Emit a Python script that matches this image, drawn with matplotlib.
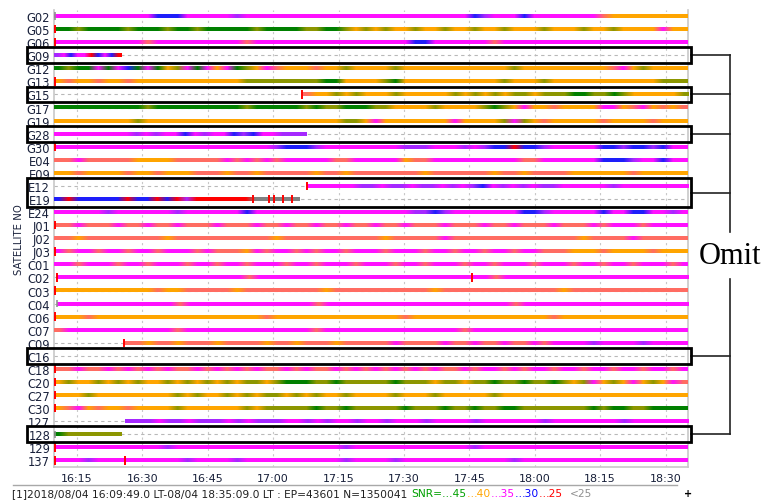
import numpy as np
import matplotlib
matplotlib.use("Agg")
import matplotlib.pyplot as plt
import matplotlib.transforms as mtransforms
from matplotlib.patches import Rectangle
from matplotlib.lines import Line2D

# time axis in minutes after 16:00 local time
t_first = 9.82    # 16:09:49
t_last = 155.15   # 18:35:09

sat_names = ["G02", "G05", "G06", "G09", "G12", "G13", "G15", "G17", "G19", "G28",
             "G30", "E04", "E09", "E12", "E19", "E24", "J01", "J02", "J03", "C01",
             "C02", "C03", "C04", "C06", "C07", "C09", "C16", "C18", "C20", "C27",
             "C30", "127", "128", "129", "137"]

# observation arc of each satellite (None = not tracked)
arc_start = [t_first, t_first, t_first, t_first, t_first, t_first, 66.6, t_first, t_first, t_first,
             t_first, t_first, t_first, 67.7, t_first, t_first, t_first, t_first, t_first, t_first,
             10.4, t_first, 10.4, t_first, t_first, 25.8, None, t_first, t_first, t_first,
             t_first, 26.0, t_first, t_first, t_first]
arc_end = [t_last, t_last, t_last, 25.3, t_last, t_last, t_last, t_last, t_last, 67.7,
           t_last, t_last, t_last, t_last, 66.1, t_last, t_last, t_last, t_last, t_last,
           t_last, t_last, t_last, t_last, t_last, t_last, None, t_last, t_last, t_last,
           t_last, t_last, 25.3, t_last, t_last]

# SNR class along each arc: g >=45, o ~42, y 40, s ~37, m 35, p ~32, b 30, r 25, k <25
arc_snr = [
    "mmmmmmmm" "mmbbbmmm" "mmpmmmmm" "mmmmmmmm" "mmmmmmmm" "mmbpmmmb" "mmmmmmms" "yyyyyyyy",
    "ggoggggo" "gggoggog" "ggggoggg" "googgoyo" "yoyyoyyo" "yyoyyoyy" "yoyyyoyy" "oyyyymyy",
    "mmmmmmmm" "msmmmmmm" "mmmsmmmm" "mmmmmmmm" "mmmmbbmm" "mmmmsmmm" "mmmmmmmm" "mmmmmmmm",
    "pmbmmrbmbr",
    "goggmgmb" "gmgyomgm" "ymgoymsy" "yysyyoyy" "yyoyyyyy" "yyyyyyoy" "yyyyyyyy" "smyoyyyy",
    "ysyysyys" "yyyyyyyy" "yyyooooo" "oooggyyy" "yogyyyyy" "yyyyyoyy" "yoyyyyyy" "yyyyyooo",
    "syyoyoyyyo" "yyyyyoyoyo" "yooyoooggo" "ogoyyyyyo",
    "gggggggg" "gogggggg" "gggogggg" "gogooggg" "ooyyyyoy" "yyyogoym" "yysyyyym" "mysmysys",
    "yyyyyyyy" "oyyyyyyy" "yyyyyyyy" "yyyyyooy" "myyyyyyy" "myyyyomo" "ysyyyyys" "yyyysyyy",
    "mmmmmmmmpmpmmbmpmmbpbmmppp",
    "mmmmmmmm" "mmmmmmmm" "mmmmmmpb" "bbpmmmmm" "mmmpppmm" "mpmpbbrb" "bpmmmmmb" "bpbbpbmm",
    "ssmsssss" "yyyyssss" "smsmsmsm" "mmmmssmm" "mmmyssmm" "mmmmmmms" "smmmmmmb" "bbpmmbmm",
    "yysyyyys" "yysyyyss" "syssysss" "ssyssyss" "sssssyss" "ssssyssy" "ssssyyyy" "yysyyyyy",
    "mmmmmppmppmppmpmpbmpmpmppm" "mmmmpmmmmmmm",
    "brbbbbbrbbrbrprrrrrrkkkkk",
    "mmmmmpmm" "mmmmpmmm" "mmmbmmmm" "mmmmmmmm" "mmmmppbp" "mmmmmmmb" "bpmmmmmb" "mmbbmmpm",
    "ssmsssms" "smssmsss" "msssmssm" "ssmssmss" "mssmsssm" "sssmssms" "ssmsssms" "mmmsmmmm",
    "ssysssss" "sssyssss" "ssssssys" "ssssssss" "sysssssm" "ssssssss" "sssssyss" "ssmsssss",
    "msmmsmms" "mmsmmmsm" "sssymsmm" "smsmmsmm" "msmmmsmm" "smmsmmsm" "msssyyys" "yyyysyyy",
    "mmsmmmsm" "msmmmsmm" "smmsmmms" "mmsmmmsm" "mmsmmsmm" "msmmsmmm" "smmmsmms" "mmsmmmsm",
    "mmmmmmmm" "mmmmmmmm" "mmmsmmmm" "mmmmmmmm" "mmmmmmmm" "mmmmsmmm" "mmmmmmmm" "mmmmmmmm",
    "yyyyyyyy" "yysyysss" "ssysssss" "sssyssss" "ssssssys" "ssssssss" "sssyssss" "ssssssss",
    "mmmmmmmm" "mmmmsmmm" "mmmmmmmm" "mmsmmmmm" "mmmmmmmm" "mmmmmmsm" "mmmmmmmm" "mmmmmmmm",
    "yyysyyyy" "yyyyyyyy" "yyyyysyy" "yyyyyyyy" "yyysyyyy" "yyyyyyyy" "yysyyyyy" "yyyyyyyy",
    "smmmmmmm" "mmmmsmmm" "mmmmmmmm" "mmsmmmmm" "mmmmmmmm" "msmmmmmm" "mmmmmmmm" "mmmmmmmm",
    "ssyssysssyssssyssyss" "sysssssmssssmssmssms" "smsmmmmpmmmmpmmmm",
    "",
    "ssmssmsm" "smsmssms" "msmsmssm" "smssmsms" "msmsmsms" "smsmmsms" "mmsmmsmm" "smmsmmsm",
    "yoyyoyoy" "oyyoyoyo" "yoyooyog" "ggoogooo" "oogoooyo" "oyoogoog" "oogoyomy" "oymyoyms",
    "yyyoyyyy" "yyyyoyoy" "yoyoyooy" "oyoyyoyy" "yyoyyyoy" "yyyyoyyy" "yyyyyyyy" "yyyyyyyy",
    "ysmysyys" "yyyyoyyy" "yyyoyooo" "oogoogoo" "ooogooog" "oogooggo" "oooooogo" "ggoogggg",
    "pppmppmpppmpmpppmmpm" "pmmpmmpmmmpmmmmpmmmm" "mmpmmmmmmmpmmmmmm",
    "goooooo",
    "mmmmmmmm" "mmmpmmmm" "mmmmmmmm" "mmmmmpmm" "mmmmmmmm" "mmpmmmmm" "mmmmmmmm" "mmmmmmmm",
    "mmmpmmmm" "mmmmmpmm" "mmpmmmmm" "mmmmmpmm" "mmpmmmmm" "mmmmmmpm" "mmmmmmmm" "mmmmmmmm",
]

# cycle slip / arc start flags (red) and plain starts (gray)
slips = {"G05": [9.9], "G06": [9.9], "G13": [9.9], "G15": [66.6], "G30": [9.9],
         "E12": [67.7], "E19": [55.3, 59.0, 60.1, 62.2, 64.3], "J01": [9.9], "J03": [9.9],
         "C02": [10.4, 105.5], "C03": [9.9], "C06": [9.9], "C09": [25.8], "C18": [9.9],
         "C20": [9.9], "C27": [9.9], "C30": [9.9], "129": [9.9], "137": [9.9, 26.1]}
plain_starts = {"G02": [9.95], "C04": [10.4], "128": [9.95]}

# satellites left out of the analysis, grouped into boxes
omit_groups = [("G09",), ("G15",), ("G28",), ("E12", "E19"), ("C16",), ("128",)]

tick_minutes = [15, 30, 45, 60, 75, 90, 105, 120, 135, 150]
tick_labels = ["16:15", "16:30", "16:45", "17:00", "17:15", "17:30", "17:45",
               "18:00", "18:15", "18:30"]

snr_colors = {"g": (0, 128, 0), "o": (140, 150, 0), "y": (255, 165, 0),
              "s": (255, 108, 98), "m": (255, 16, 255), "p": (165, 40, 255),
              "b": (30, 30, 250), "r": (255, 0, 0), "k": (128, 128, 128)}

W, H = 763, 502
fig = plt.figure(figsize=(W / 100, H / 100), dpi=100)
ax = fig.add_axes([54.4 / W, (H - 468) / H, (688 - 54.4) / W, (468 - 10.5) / H])

n = len(sat_names)
label_color = "#18203a"

# empty track lines and vertical grid
ax.hlines(range(n), t_first, t_last, colors="#b8b8b8", linestyles=(0, (3, 3)), lw=0.8, zorder=1)
for t in tick_minutes:
    ax.axvline(t, color="#c8c8c8", ls=(0, (2, 3)), lw=0.8, zorder=0.5)

half = 0.15
for i, name in enumerate(sat_names):
    codes = arc_snr[i]
    if not codes:
        continue
    rgb = np.array([snr_colors[c] for c in codes], dtype=float)[None, :, :] / 255.0
    ax.imshow(rgb, extent=(arc_start[i], arc_end[i], i + half, i - half),
              aspect="auto", interpolation="bilinear", zorder=3)
    for t in slips.get(name, []):
        ax.vlines(t, i - 0.32, i + 0.32, color="red", lw=1.4, zorder=4)
    for t in plain_starts.get(name, []):
        ax.vlines(t, i - 0.28, i + 0.28, color="#909090", lw=1.2, zorder=4)

ax.set_xlim(t_first, t_last)
ax.set_ylim(n - 0.5, -0.5)
ax.set_aspect("auto")
ax.set_yticks(range(n))
ax.set_yticklabels(sat_names, fontsize=8.3, color=label_color)
ax.set_xticks(tick_minutes)
ax.set_xticklabels(tick_labels, fontsize=8, color=label_color)
ax.tick_params(axis="both", length=0)
ax.tick_params(axis="y", pad=3)
ax.tick_params(axis="x", pad=4)
for side in ["left", "bottom", "right"]:
    ax.spines[side].set_color("#c8c8c8")
    ax.spines[side].set_linewidth(1.2)
ax.spines["top"].set_visible(False)

fig.text(19 / W, 1 - 240 / H, "SATELLITE NO", rotation=90, fontsize=7.3,
         color=label_color, ha="center", va="center")

# boxes around omitted satellites and the bracket joining them
trans = mtransforms.blended_transform_factory(fig.transFigure, ax.transData)
box_x0, box_x1, brace_x = 27 / W, 691 / W, 730 / W
centers = []
for group in omit_groups:
    rows = [sat_names.index(s) for s in group]
    top, bot = min(rows) - 0.6, max(rows) + 0.6
    ax.add_patch(Rectangle((box_x0, top), box_x1 - box_x0, bot - top, transform=trans,
                           fill=False, ec="black", lw=2.0, clip_on=False, zorder=6))
    mid = (min(rows) + max(rows)) / 2
    centers.append(mid)
    ax.add_line(Line2D([box_x1, brace_x], [mid, mid], transform=trans, color="#222222",
                       lw=1.2, clip_on=False))
gap_top, gap_bot = 16.5, 20.1
ax.add_line(Line2D([brace_x, brace_x], [centers[0], gap_top], transform=trans,
                   color="#222222", lw=1.2, clip_on=False))
ax.add_line(Line2D([brace_x, brace_x], [gap_bot, centers[-1]], transform=trans,
                   color="#222222", lw=1.2, clip_on=False))
fig.text(699 / W, 1 - 257 / H, "Omit", fontsize=22, family="Liberation Serif",
         ha="left", va="center", color="black")

# status bar
fig.add_artist(Line2D([13 / W, 677 / W], [1 - 486 / H, 1 - 486 / H], transform=fig.transFigure,
                      color="#a8a8a8", lw=1.0))
status_parts = [("[1]2018/08/04 16:09:49.0 LT-08/04 18:35:09.0 LT : EP=43601 N=1350041", "#202020"),
                ("SNR=\u202645", "#00a000"), ("\u202640", "#ffa500"), ("\u202635", "#ff00ff"),
                ("\u202630", "#0000ff"), ("\u202625", "#ff0000"), ("<25", "#909090")]
gaps = [4, 0, 0, 0, 0, 7, 0]
renderer = fig.canvas.get_renderer()
x = 12
for (s, c), g in zip(status_parts, gaps):
    txt = fig.text(x / W, 1 - 494 / H, s, fontsize=7.7, color=c, ha="left", va="center")
    bb = txt.get_window_extent(renderer)
    x = bb.x1 + g
fig.text(688 / W, 1 - 494 / H, "+", fontsize=7, weight="bold", ha="center", va="center")

fig.savefig("out.png", dpi=100)
